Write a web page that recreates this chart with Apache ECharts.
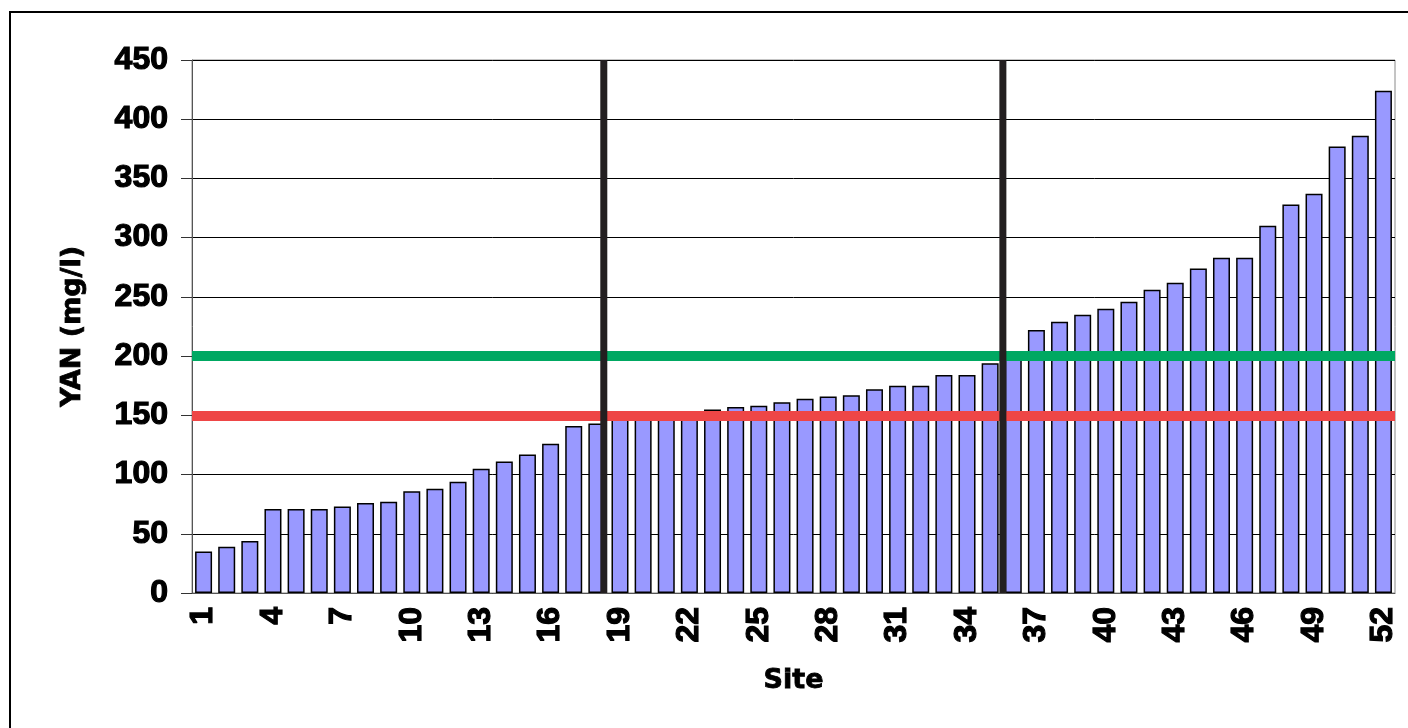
<!DOCTYPE html>
<html>
<head>
    <meta charset="utf-8" />
    <script src="https://cdn.jsdelivr.net/npm/echarts@6/dist/echarts.min.js"></script>
    <style type="text/css">
    html, body {
        margin: 0;
        padding: 0;
        background-color: #ffffff;
    }

    #chart {
        width: 1408px;
        height: 728px;
    }
    </style>
</head>
<body>
    <div id="chart"></div>
    <script type="text/javascript">
    // site numbers on the x axis
    let sites = ['1','2','3','4','5','6','7','8','9','10','11','12','13',
        '14','15','16','17','18','19','20','21','22','23','24','25','26',
        '27','28','29','30','31','32','33','34','35','36','37','38','39',
        '40','41','42','43','44','45','46','47','48','49','50','51','52'];

    // YAN (mg/l) per site, sorted ascending
    let yan = [35, 39, 44, 71, 71, 71, 73, 76, 77, 86, 88, 94, 105,
        111, 117, 126, 141, 143, 150, 150, 150, 150, 155, 157, 158, 161,
        164, 166, 167, 172, 175, 175, 184, 184, 194, 199, 222, 229, 235,
        240, 246, 256, 262, 274, 283, 283, 310, 328, 337, 377, 386, 424];

    // threshold levels
    let lowLimit = 150;
    let highLimit = 200;

    // group dividers, in category units from the left edge
    let dividers = [17.8, 35.05];

    let yTicks = [0, 450, 50]; // min, max, step

    let chart = echarts.init(document.getElementById('chart'));

    let tickFont = {
        fontFamily: '"Liberation Sans", Arial, sans-serif',
        fontWeight: 'bold',
        fontSize: 32,
        color: '#000',
        textBorderColor: '#000',
        textBorderWidth: 1.2
    };

    let nameFont = {
        fontFamily: '"DejaVu Sans", sans-serif',
        fontWeight: 'bold',
        color: '#000',
        textBorderColor: '#000',
        textBorderWidth: 0.8
    };

    let dividerSeries = dividers.map(function (d) {
        return {
            type: 'line',
            xAxisIndex: 1,
            data: [[d, yTicks[0]], [d, yTicks[1]]],
            symbol: 'none',
            silent: true,
            z: 6,
            lineStyle: { color: '#231F20', width: 7 }
        };
    });

    let option = {
        backgroundColor: '#ffffff',
        animation: false,
        graphic: [{
            type: 'rect',
            shape: { x: 10, y: 12, width: 1440, height: 760 },
            style: { fill: 'none', stroke: '#000', lineWidth: 2 },
            z: 100
        }],
        grid: {
            left: 192,
            right: 13,
            top: 60,
            bottom: 135,
            show: true,
            borderColor: '#8a8a8a',
            borderWidth: 1
        },
        xAxis: [{
            type: 'category',
            data: sites,
            name: 'Site',
            nameLocation: 'middle',
            nameGap: 74,
            nameTextStyle: Object.assign({ fontSize: 27 }, nameFont),
            axisLine: { lineStyle: { color: '#555', width: 1 } },
            axisTick: {
                interval: 0,
                length: 8,
                lineStyle: { color: '#333' }
            },
            axisLabel: Object.assign({
                interval: 2,
                rotate: 90,
                margin: 14
            }, tickFont),
            splitLine: { show: false }
        }, {
            type: 'value',
            min: 0,
            max: sites.length,
            show: false
        }],
        yAxis: {
            type: 'value',
            min: yTicks[0],
            max: yTicks[1],
            interval: yTicks[2],
            name: 'YAN (mg/l)',
            nameLocation: 'middle',
            nameGap: 106,
            nameTextStyle: Object.assign({ fontSize: 27 }, nameFont),
            axisLine: { show: true, lineStyle: { color: '#555', width: 1 } },
            axisTick: { show: true, length: 11, lineStyle: { color: '#333' } },
            axisLabel: Object.assign({
                margin: 24,
                padding: [12, 0, 0, 0]
            }, tickFont),
            splitLine: { lineStyle: { color: '#000', width: 1 } }
        },
        series: [{
            name: 'YAN',
            type: 'bar',
            data: yan,
            barWidth: 17,
            itemStyle: {
                color: '#9999FF',
                borderColor: '#000',
                borderWidth: 1.5
            },
            markLine: {
                silent: true,
                symbol: 'none',
                label: { show: false },
                z: 4,
                data: [
                    { yAxis: lowLimit, lineStyle: { color: '#EE4646', width: 10, type: 'solid' } },
                    { yAxis: highLimit, lineStyle: { color: '#00A862', width: 10, type: 'solid' } }
                ]
            }
        }].concat(dividerSeries)
    };

    chart.setOption(option);
    </script>
</body>
</html>
